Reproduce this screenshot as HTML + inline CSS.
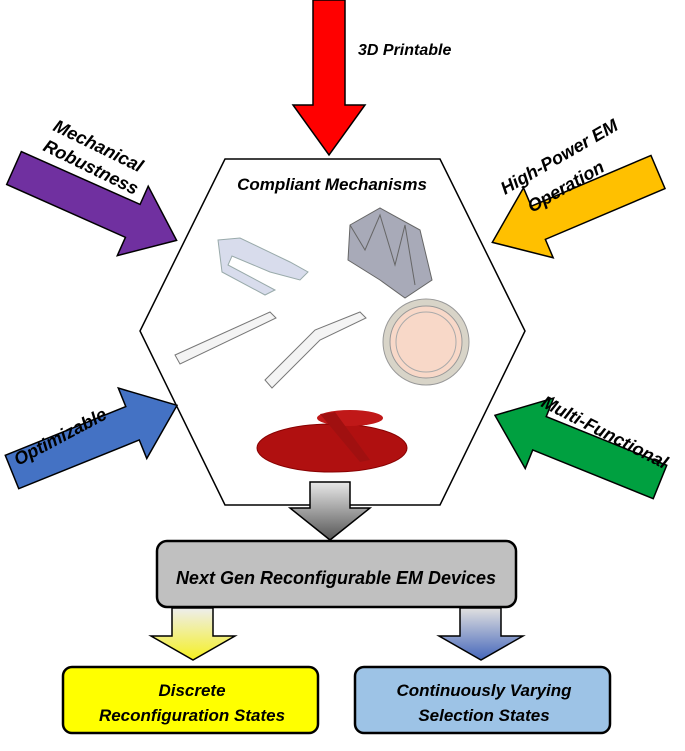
<!DOCTYPE html>
<html><head><style>
body{margin:0;background:#fff;}
svg text{font-family:"Liberation Sans",sans-serif;font-weight:bold;font-style:italic;}
</style></head><body>
<svg width="685" height="746" viewBox="0 0 685 746" xmlns="http://www.w3.org/2000/svg">
<defs>
<linearGradient id="gg" x1="0" y1="0" x2="0" y2="1"><stop offset="0" stop-color="#e8e8e8"/><stop offset="1" stop-color="#555"/></linearGradient>
<linearGradient id="yg" x1="0" y1="0" x2="0" y2="1"><stop offset="0" stop-color="#eeeeee"/><stop offset="1" stop-color="#f5f020"/></linearGradient>
<linearGradient id="bg" x1="0" y1="0" x2="0" y2="1"><stop offset="0" stop-color="#e0e0e0"/><stop offset="1" stop-color="#4466bb"/></linearGradient>
</defs>
<polygon points="225,159 440,159 525,331 440,505 225,505 140,331" fill="#fff" stroke="#000" stroke-width="1.5"/>
<polygon points="313,0 345,0 345,105 365,105 329,155 293,105 313,105" fill="#f00" stroke="#000" stroke-width="1.5"/>
<text x="358" y="55" font-size="16">3D Printable</text>
<g transform="translate(14,168) rotate(24)">
<polygon points="0,-18 130,-18 130,-38 178,0 130,38 130,18 0,18" fill="#7030a0" stroke="#000" stroke-width="1.5"/>
</g>
<text transform="translate(52,130) rotate(26)" font-size="18">Mechanical</text>
<text transform="translate(42,150) rotate(26)" font-size="18">Robustness</text>
<g transform="translate(658,172) rotate(157)">
<polygon points="0,-18 130,-18 130,-38 180,0 130,38 130,18 0,18" fill="#ffc000" stroke="#000" stroke-width="1.5"/>
</g>
<text transform="translate(505,195) rotate(-30)" font-size="18">High-Power EM</text>
<text transform="translate(532,213) rotate(-30)" font-size="18">Operation</text>
<g transform="translate(12,472) rotate(-22)">
<polygon points="0,-18 130,-18 130,-38 178,0 130,38 130,18 0,18" fill="#4472c4" stroke="#000" stroke-width="1.5"/>
</g>
<text transform="translate(18,466) rotate(-28)" font-size="18">Optimizable</text>
<g transform="translate(660,482) rotate(202)">
<polygon points="0,-18 130,-18 130,-38 178,0 130,38 130,18 0,18" fill="#00a040" stroke="#000" stroke-width="1.5"/>
</g>
<text transform="translate(540,406) rotate(27)" font-size="18">Multi-Functional</text>
<text x="332" y="190" font-size="17" text-anchor="middle">Compliant Mechanisms</text>
<path d="M218,240 L240,238 L290,262 L308,272 L300,280 L270,272 L232,256 L228,265 L275,290 L265,295 L222,272 Z" fill="#d8dcec" stroke="#9aa" stroke-width="1"/>
<polygon points="350,225 380,208 420,230 432,280 405,298 380,280 348,260" fill="#a8aab8" stroke="#666" stroke-width="1"/>
<polyline points="350,225 365,250 380,215 395,265 405,225 415,285" fill="none" stroke="#666"/>
<polygon points="175,355 270,312 276,318 180,364" fill="#f4f4f4" stroke="#777"/>
<polygon points="265,380 315,330 360,312 366,318 320,340 272,388" fill="#f4f4f4" stroke="#777"/>
<circle cx="426" cy="342" r="43" fill="#d8d4c8" stroke="#999"/>
<circle cx="426" cy="342" r="36" fill="#f8d8c8" stroke="#999"/>
<circle cx="426" cy="342" r="30" fill="none" stroke="#aaa"/>
<ellipse cx="332" cy="448" rx="75" ry="24" fill="#b01010" stroke="#800"/>
<ellipse cx="350" cy="418" rx="33" ry="8" fill="#c01818"/>
<polygon points="320,414 335,412 370,460 360,462" fill="#a01010"/>
<polygon points="310,482 350,482 350,508 370,508 330,540 290,508 310,508" fill="url(#gg)" stroke="#000" stroke-width="1.5"/>
<rect x="157" y="541" width="359" height="66" rx="10" fill="#c0c0c0" stroke="#000" stroke-width="2.5"/>
<text x="336" y="584" font-size="18" text-anchor="middle">Next Gen Reconfigurable EM Devices</text>
<polygon points="172,608 213,608 213,636 235,636 193,660 151,636 172,636" fill="url(#yg)" stroke="#000" stroke-width="1.5"/>
<polygon points="460,608 501,608 501,636 523,636 481,660 439,636 460,636" fill="url(#bg)" stroke="#000" stroke-width="1.5"/>
<rect x="63" y="667" width="255" height="66" rx="9" fill="#ffff00" stroke="#000" stroke-width="2.5"/>
<text x="192" y="696" font-size="17" text-anchor="middle">Discrete</text>
<text x="192" y="721" font-size="17" text-anchor="middle">Reconfiguration States</text>
<rect x="355" y="667" width="255" height="66" rx="9" fill="#9dc3e6" stroke="#000" stroke-width="2.5"/>
<text x="484" y="696" font-size="17" text-anchor="middle">Continuously Varying</text>
<text x="484" y="721" font-size="17" text-anchor="middle">Selection States</text>
</svg>
</body></html>
